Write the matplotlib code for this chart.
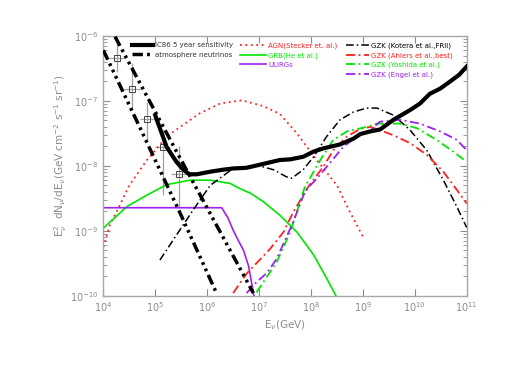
import matplotlib
matplotlib.use("Agg")
import matplotlib.pyplot as plt
import numpy as np
from matplotlib.ticker import LogLocator, NullLocator, LogFormatterMathtext

# values, as log10(E/GeV) and log10(E^2 dN/dE)
ic86_logE = [5.0, 5.03, 5.22, 5.41, 5.52, 5.62, 5.67, 5.8, 6.06, 6.3, 6.5, 6.76, 7.08,
             7.4, 7.6, 7.85, 8.05, 8.24, 8.56, 8.82, 8.95, 9.14, 9.33, 9.59, 9.91,
             10.1, 10.29, 10.49, 10.68, 10.85, 11.0]
ic86_logF = [-7.22, -7.29, -7.71, -7.94, -8.04, -8.11, -8.13, -8.13, -8.09, -8.06, -8.04,
             -8.03, -7.97, -7.91, -7.9, -7.86, -7.78, -7.73, -7.67, -7.58, -7.51, -7.47,
             -7.44, -7.29, -7.14, -7.04, -6.89, -6.81, -6.70, -6.6, -6.47]

atm1_logE = [4.0, 4.71, 5.48, 6.18]
atm1_logF = [-6.22, -7.42, -8.73, -9.96]
atm2_logE = [4.225, 5.41, 6.89]
atm2_logF = [-6.01, -7.78, -9.96]

data_logE = [4.26, 4.55, 4.85, 5.14, 5.45]
data_logF = [-6.34, -6.82, -7.28, -7.71, -8.12]
data_logF_hi = [-6.01, -6.42, -7.01, -7.45, -7.69]
data_logF_lo = [-6.55, -7.14, -7.6, -8.45, -8.63]
data_logE_err = 0.15

agn_logE = [4.0, 4.13, 4.26, 4.5, 4.84, 5.22, 5.48, 5.86, 6.25, 6.67, 7.08, 7.4,
            7.73, 8.11, 8.5, 8.75, 9.0]
agn_logF = [-9.25, -8.9, -8.7, -8.3, -7.91, -7.55, -7.4, -7.19, -7.04, -6.99, -7.08,
            -7.2, -7.5, -7.91, -8.3, -8.71, -9.09]

grb_logE = [4.0, 4.45, 4.84, 5.22, 5.67, 6.06, 6.44, 6.63, 6.83, 7.08, 7.4, 7.73,
            8.05, 8.3, 8.48]
grb_logF = [-8.96, -8.63, -8.45, -8.29, -8.22, -8.22, -8.27, -8.35, -8.42, -8.55,
            -8.76, -9.02, -9.37, -9.73, -10.0]

ulirg_logE = [4.0, 6.28, 6.4, 6.5, 6.6, 6.7, 6.8, 6.9]
ulirg_logF = [-8.645, -8.645, -8.8, -8.99, -9.15, -9.3, -9.55, -10.0]

kotera_logE = [5.09, 5.73, 5.86, 6.06, 6.5, 6.76, 7.0, 7.28, 7.53, 7.63, 7.85, 8.05,
               8.3, 8.56, 8.82, 9.07, 9.27, 9.59, 9.91, 10.23, 10.55, 10.81, 11.0]
kotera_logF = [-9.45, -8.68, -8.53, -8.3, -8.04, -8.01, -8.0, -8.06, -8.17, -8.19,
               -8.06, -7.86, -7.55, -7.29, -7.17, -7.11, -7.11, -7.22, -7.45, -7.76,
               -8.22, -8.63, -8.95]

ahlers_logE = [6.5, 6.76, 7.21, 7.47, 7.66, 7.95, 8.24, 8.43, 8.69, 8.95, 9.14, 9.33,
               9.59, 9.91, 10.23, 10.55, 10.81, 11.0]
ahlers_logF = [-9.96, -9.66, -9.28, -9.02, -8.71, -8.32, -8.01, -7.76, -7.55, -7.43,
               -7.4, -7.45, -7.53, -7.65, -7.83, -8.09, -8.37, -8.58]

yoshida_logE = [6.95, 7.34, 7.6, 7.88, 8.18, 8.43, 8.69, 9.07, 9.27, 9.72, 10.04,
                10.42, 10.74, 11.0]
yoshida_logF = [-9.95, -9.48, -9.02, -8.33, -7.91, -7.6, -7.47, -7.4, -7.35, -7.35,
                -7.42, -7.6, -7.78, -7.94]

engel_logE = [6.76, 6.95, 7.15, 7.34, 7.66, 7.89, 8.11, 8.37, 8.62, 8.88, 9.14, 9.33,
              9.72, 10.1, 10.49, 10.81, 11.0]
engel_logF = [-9.96, -9.79, -9.65, -9.43, -8.86, -8.38, -8.2, -7.95, -7.71, -7.55,
              -7.45, -7.32, -7.29, -7.35, -7.47, -7.6, -7.76]

xticks_exp = [4, 5, 6, 7, 8, 9, 10, 11]
yticks_exp = [-10, -9, -8, -7, -6]

RED = "#ff2020"
GREEN = "#00e600"
PURPLE = "#a020f0"
GREY = "#8c8c8c"


def p(le, lf):
    return 10 ** np.array(le), 10 ** np.array(lf)


fig = plt.figure(figsize=(5.18, 3.70), dpi=100)
ax = fig.add_axes([0.1995, 0.2008, 0.7015, 0.7019])
ax.set_xscale("log")
ax.set_yscale("log")

atm_style = (0, (3, 1.2, 0.8, 1.2, 0.8, 1.2, 0.8, 1.2))
dashdot = (0, (5, 2, 1, 2))

# data points with error bars
dx, dy = p(data_logE, data_logF)
yhi = 10 ** np.array(data_logF_hi) - dy
ylo = dy - 10 ** np.array(data_logF_lo)
xlo = dx - 10 ** (np.array(data_logE) - data_logE_err)
xhi = 10 ** (np.array(data_logE) + data_logE_err) - dx
ax.errorbar(dx, dy, yerr=[ylo, yhi], xerr=[xlo, xhi], fmt="none", ecolor="#a0a0a0",
            elinewidth=0.9, zorder=2)
ax.plot(dx, dy, "s", ms=5, mfc="none", mec="#444444", mew=0.7, zorder=3)

h_ic, = ax.plot(*p(ic86_logE, ic86_logF), color="black", lw=3.0, zorder=5)
h_atm, = ax.plot(*p(atm1_logE, atm1_logF), color="black", lw=2.5, ls=atm_style, zorder=4)
ax.plot(*p(atm2_logE, atm2_logF), color="black", lw=2.5, ls=atm_style, zorder=4)

h_agn, = ax.plot(*p(agn_logE, agn_logF), color=RED, lw=1.3, ls=(0, (1, 2)))
h_grb, = ax.plot(*p(grb_logE, grb_logF), color=GREEN, lw=1.2)
h_ul, = ax.plot(*p(ulirg_logE, ulirg_logF), color=PURPLE, lw=1.2)

h_kot, = ax.plot(*p(kotera_logE, kotera_logF), color="black", lw=1.1, ls=dashdot)
h_ahl, = ax.plot(*p(ahlers_logE, ahlers_logF), color=RED, lw=1.3, ls=dashdot)
h_yos, = ax.plot(*p(yoshida_logE, yoshida_logF), color=GREEN, lw=1.3, ls=dashdot)
h_eng, = ax.plot(*p(engel_logE, engel_logF), color=PURPLE, lw=1.3, ls=dashdot)

ax.set_xlim(1e4, 1e11)
ax.set_ylim(1e-10, 1e-6)

ax.xaxis.set_major_locator(matplotlib.ticker.FixedLocator([10.0 ** e for e in xticks_exp]))
ax.xaxis.set_minor_locator(NullLocator())
ax.yaxis.set_major_locator(matplotlib.ticker.FixedLocator([10.0 ** e for e in yticks_exp]))
ax.yaxis.set_minor_locator(LogLocator(base=10, subs=np.arange(2, 10), numticks=20))
ax.xaxis.set_major_formatter(LogFormatterMathtext())
ax.yaxis.set_major_formatter(LogFormatterMathtext())

ax.tick_params(which="both", direction="in", top=True, right=True, colors=GREY,
               labelcolor=GREY, labelsize=7)
ax.tick_params(which="major", length=5, width=0.8)
ax.tick_params(which="minor", length=3, width=0.6)
for s in ax.spines.values():
    s.set_color("#a8a8a8")
    s.set_linewidth(1.0)

ax.set_xlabel(r"E$_\nu$(GeV)", color=GREY, fontsize=7.5, labelpad=3)
ax.set_ylabel(r"E$_\nu^2$  dN$_\nu$/dE$_\nu$(GeV cm$^{-2}$ s$^{-1}$ sr$^{-1}$)",
              color=GREY, fontsize=7.5)
ax.yaxis.set_label_coords(-0.095, 0.54)

leg_kw = dict(frameon=False, fontsize=5, loc="upper left", borderpad=0,
              borderaxespad=0, handletextpad=0.3, labelspacing=0.45)
leg1 = ax.legend([h_ic, h_atm], ["IC86 5 year sensitivity", "atmosphere neutrinos"],
                 bbox_to_anchor=(0.078, 0.975), handlelength=3.1, labelcolor="#333333",
                 **leg_kw)
ax.add_artist(leg1)
leg2 = ax.legend([h_agn, h_grb, h_ul], ["AGN(Stecker et. al.)", "GRB(He et al.)", "ULIRGs"],
                 bbox_to_anchor=(0.376, 0.975), handlelength=3.8, labelcolor="linecolor",
                 **leg_kw)
ax.add_artist(leg2)
ax.legend([h_kot, h_ahl, h_yos, h_eng],
          ["GZK (Kotera et al.,FRII)", "GZK (Ahlers et al.,best)",
           "GZK (Yoshida et al.)", "GZK (Engel et al.)"],
          bbox_to_anchor=(0.669, 0.975), handlelength=3.3, labelcolor="linecolor",
          **leg_kw)

fig.savefig("out.png", dpi=100)
